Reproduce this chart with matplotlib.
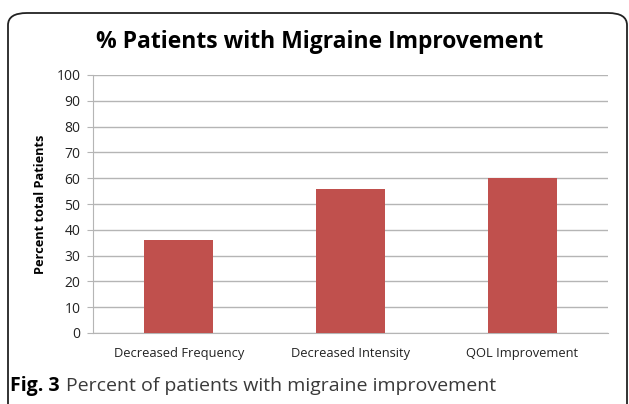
import matplotlib.pyplot as plt
from matplotlib.patches import FancyBboxPatch

categories = ['Decreased Frequency', 'Decreased Intensity', 'QOL Improvement']
values = [36, 56, 60]
yticks = list(range(0, 101, 10))

W, H = 629, 404
fig = plt.figure(figsize=(W / 100, H / 100), dpi=100)
fig.patch.set_facecolor('white')

# rounded frame around the chart (bottom runs off the picture)
frame = FancyBboxPatch((8 / W, -0.2), 619 / W, 1.2 - 13 / H,
                       boxstyle='round,pad=0,rounding_size=0.03',
                       transform=fig.transFigure, fill=False,
                       edgecolor='#222222', linewidth=1.3)
fig.patches.append(frame)

ax = fig.add_axes([93 / W, 1 - 333 / H, 515 / W, 258 / H])
ax.bar(range(len(categories)), values, width=0.4, color='#C0504D', zorder=3)
ax.set_xlim(-0.5, 2.5)
ax.set_ylim(0, 100)
ax.set_yticks(yticks)
ax.set_xticks(range(len(categories)))
ax.set_xticklabels(categories, fontsize=9.3, family='Open Sans', color='#222222')
for lbl in ax.get_yticklabels():
    lbl.set_fontsize(10)
    lbl.set_family('Open Sans')
    lbl.set_color('#222222')
ax.yaxis.grid(True, color='#B5B5B5', linewidth=1, zorder=0)
for s in ['top', 'right']:
    ax.spines[s].set_visible(False)
ax.spines['left'].set_color('#B5B5B5')
ax.spines['bottom'].set_color('#B5B5B5')
ax.tick_params(axis='y', length=4, color='#B5B5B5', pad=5)
ax.tick_params(axis='x', length=0, pad=10)
ax.set_ylabel('Percent total Patients', fontsize=9.2, fontweight='bold',
              family='Open Sans', labelpad=7)

fig.text(0.508, 1 - 42 / H, '% Patients with Migraine Improvement',
         ha='center', va='center', fontsize=16.5, fontweight='bold',
         family='Open Sans')

fig.text(10 / W, 1 - 386 / H, 'Fig. 3', ha='left', va='center',
         fontsize=14, fontweight='bold', family='Open Sans')
fig.text(66 / W, 1 - 386 / H, 'Percent of patients with migraine improvement',
         ha='left', va='center', fontsize=14, family='Open Sans',
         color='#3a3a3a')

fig.savefig('out.png', dpi=100)
